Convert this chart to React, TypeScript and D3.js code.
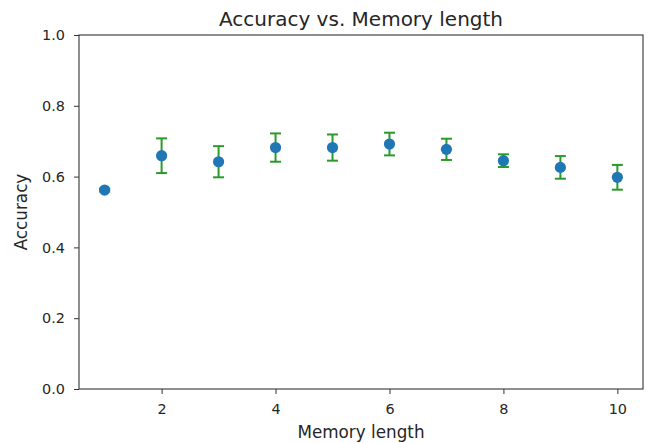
import React, { useRef, useEffect } from "react";
import * as d3 from "d3";

// memory length vs mean accuracy with std error bars
const memoryLengths = [1, 2, 3, 4, 5, 6, 7, 8, 9, 10];
const accuracy = [0.562, 0.659, 0.642, 0.682, 0.682, 0.692, 0.677, 0.645, 0.626, 0.598];
const accuracyErr = [0.004, 0.049, 0.044, 0.04, 0.037, 0.032, 0.03, 0.018, 0.032, 0.035];
const xTicks = [2, 4, 6, 8, 10];
const yTicks = [0, 0.2, 0.4, 0.6, 0.8, 1.0];

function App() {
  const ref = useRef<SVGSVGElement>(null);

  useEffect(() => {
    const width = 648;
    const height = 443;
    const margin = { top: 35, right: 5, bottom: 54, left: 79 };
    const innerW = width - margin.left - margin.right;
    const innerH = height - margin.top - margin.bottom;

    const root = d3.select(ref.current);
    root.selectAll("*").remove();

    const g = root
      .append("g")
      .attr("transform", `translate(${margin.left},${margin.top})`);

    const x = d3.scaleLinear().domain([0.55, 10.45]).range([0, innerW]);
    const y = d3.scaleLinear().domain([0, 1]).range([innerH, 0]);

    const font = "DejaVu Sans, sans-serif";
    const textColor = "#262626";

    // axes
    const xAxis = g
      .append("g")
      .attr("transform", `translate(0,${innerH})`)
      .call(d3.axisBottom(x).tickValues(xTicks).tickFormat(d3.format("d")).tickSize(5).tickPadding(10));
    const yAxis = g
      .append("g")
      .call(d3.axisLeft(y).tickValues(yTicks).tickFormat(d3.format(".1f")).tickSize(5).tickPadding(9));

    [xAxis, yAxis].forEach((ax) => {
      ax.select(".domain").remove();
      ax.selectAll("line").attr("stroke", "#333").attr("stroke-width", 1);
      ax.selectAll("text")
        .attr("font-family", font)
        .attr("font-size", 14.4)
        .attr("fill", textColor);
    });

    // frame
    g.append("rect")
      .attr("x", 0)
      .attr("y", 0)
      .attr("width", innerW)
      .attr("height", innerH)
      .attr("fill", "none")
      .attr("stroke", "#333")
      .attr("stroke-width", 1.1);

    const errColor = "#2a9a2a";
    const cap = 5.5;
    const pts = memoryLengths.map((m, i) => ({ m, v: accuracy[i], e: accuracyErr[i] }));

    const bars = g.append("g").selectAll("g").data(pts).enter().append("g");
    bars
      .append("line")
      .attr("x1", (d) => x(d.m))
      .attr("x2", (d) => x(d.m))
      .attr("y1", (d) => y(d.v - d.e))
      .attr("y2", (d) => y(d.v + d.e))
      .attr("stroke", errColor)
      .attr("stroke-width", 2);
    [1, -1].forEach((s) => {
      bars
        .append("line")
        .attr("x1", (d) => x(d.m) - cap)
        .attr("x2", (d) => x(d.m) + cap)
        .attr("y1", (d) => y(d.v + s * d.e))
        .attr("y2", (d) => y(d.v + s * d.e))
        .attr("stroke", errColor)
        .attr("stroke-width", 2);
    });

    g.append("g")
      .selectAll("circle")
      .data(pts)
      .enter()
      .append("circle")
      .attr("cx", (d) => x(d.m))
      .attr("cy", (d) => y(d.v))
      .attr("r", 5.6)
      .attr("fill", "#1f77b4");

    // labels
    root
      .append("text")
      .attr("x", margin.left + innerW / 2)
      .attr("y", 26)
      .attr("text-anchor", "middle")
      .attr("font-family", font)
      .attr("font-size", 20)
      .attr("fill", textColor)
      .text("Accuracy vs. Memory length");

    root
      .append("text")
      .attr("x", margin.left + innerW / 2)
      .attr("y", 438)
      .attr("text-anchor", "middle")
      .attr("font-family", font)
      .attr("font-size", 16.8)
      .attr("fill", textColor)
      .text("Memory length");

    root
      .append("text")
      .attr("transform", `translate(27,${margin.top + innerH / 2}) rotate(-90)`)
      .attr("text-anchor", "middle")
      .attr("font-family", font)
      .attr("font-size", 16.8)
      .attr("fill", textColor)
      .text("Accuracy");
  }, []);

  return (
    <svg
      ref={ref}
      width={648}
      height={443}
      style={{ position: "absolute", left: 0, top: 0, background: "#fff" }}
    />
  );
}

export default App;
